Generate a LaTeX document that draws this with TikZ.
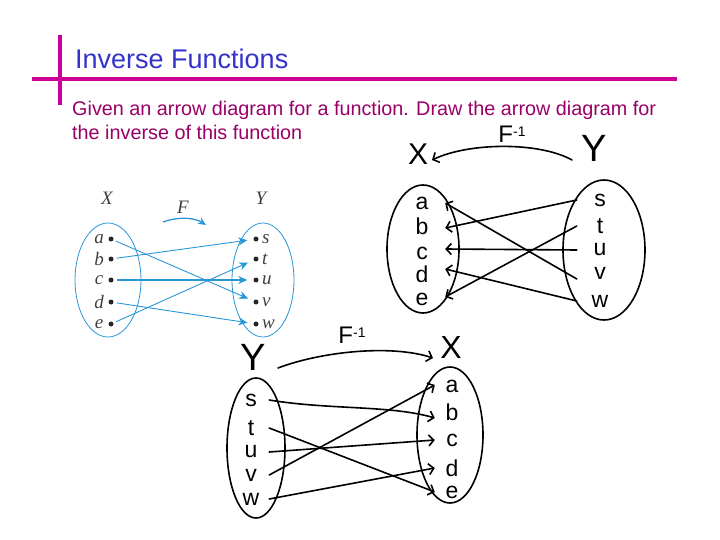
\documentclass[tikz,border=0pt]{standalone}
\usepackage{fontspec}
\setmainfont{Liberation Sans}
\newfontfamily\tbfont{Liberation Serif}
\usetikzlibrary{arrows.meta}
\definecolor{titleblue}{RGB}{51,51,204}
\definecolor{bodymag}{RGB}{153,0,102}
\definecolor{rulemag}{RGB}{204,0,153}
\definecolor{tbblue}{RGB}{40,150,215}
\begin{document}
\begin{tikzpicture}[x=1pt,y=-1pt,
  rulestyle/.style={rulemag,line width=4pt},
  bodytext/.style={anchor=base west,inner sep=0pt,text=bodymag,font=\fontsize{19.8}{24}\selectfont},
  tbdot/.style={circle,fill=black!85,inner sep=0pt,minimum size=5pt},
  tblab/.style={font=\tbfont\itshape\fontsize{19}{19}\selectfont,text=black!75,inner sep=0pt},
  tbarrow/.style={tbblue,line width=0.9pt,-{Stealth[length=9pt,width=8pt]},shorten <=3pt,shorten >=6pt},
  tbset/.style={draw=tbblue,line width=0.8pt},
  hand/.style={black,line width=1.6pt,line cap=round},
  handarrow/.style={hand,-{Straight Barb[length=5pt,width=11pt,line width=1.6pt]}},
  hlab/.style={font=\fontsize{23}{23}\selectfont,inner sep=0pt},
  hF/.style={font=\fontsize{24}{24}\selectfont,inner sep=0pt,anchor=base},
  hX/.style={font=\fontsize{30}{30}\selectfont,inner sep=0pt},
  hY/.style={font=\fontsize{38}{38}\selectfont,inner sep=0pt}
]
\useasboundingbox (0,0) rectangle (720,540);
% title rules
\coordinate (vt) at (60,35); \coordinate (vb) at (60,105);
\coordinate (hl) at (32,79); \coordinate (hr) at (677,79);
\draw[rulestyle] (vt) -- (vb);
\draw[rulestyle] (hl) -- (hr);
\node[anchor=base west,inner sep=0pt,text=titleblue,font=\fontsize{27}{27}\selectfont] (title) at (75,69) {Inverse Functions};
\node[bodytext] (body1) at (72,116) {Given an arrow diagram for a function. Draw the arrow diagram for};
\node[bodytext] (body2) at (72,140) {the inverse of this function};

% ---------- textbook diagram ----------
\draw[tbset] (108,280) ellipse (33 and 57);
\draw[tbset] (263,280) ellipse (31 and 57);
\node[tblab] (tX) at (107,198) {X};
\node[tblab] (tY) at (261,198) {Y};
\node[tblab] (tF) at (183,207) {F};
\coordinate (tFs) at (163,222); \coordinate (tFe) at (206,225);
\draw[tbblue,line width=1.3pt,-{Stealth[length=8pt,width=7pt]}] (tFs) .. controls (180,216) and (195,218) .. (tFe);
\foreach \n/\y in {a/239,b/259,c/280,d/302,e/324}{
  \node[tbdot] (d\n) at (111,\y) {};
  \node[tblab] (l\n) at (99,\y) {\n};
}
\foreach \n/\y in {s/239,t/259,u/280,v/302,w/324}{
  \node[tbdot] (d\n) at (256,\y) {};
  \node[tblab,anchor=west] (l\n) at (262,\y) {\n};
}
\draw[tbarrow] (da) -- (dv);
\draw[tbarrow] (db) -- (ds);
\draw[tbarrow,line width=1.6pt] (dc) -- (du);
\draw[tbarrow] (dd) -- (dw);
\draw[tbarrow] (de) -- (dt);

% ---------- hand diagram 1 (top right) ----------
\node[hX] (rX) at (418,154) {X};
\node[hY] (rY) at (594,148) {Y};
\node[hF] (rF) at (512,143) {F\raisebox{6pt}{\fontsize{14}{14}\selectfont -1}};
\coordinate (rFs) at (572,160); \coordinate (rFe) at (432,160);
\draw[handarrow] (rFs) .. controls (540,142) and (470,142) .. (rFe);
\draw[hand] (423,249) ellipse (36 and 64);
\draw[hand] (604,250) ellipse (41 and 70);
\foreach \n/\y in {a/203,b/226,c/253,d/274,e/299}{
  \node[hlab,minimum width=46pt] (r\n) at (422,\y) {\n};
}
\foreach \n/\y in {s/200,t/226,u/250,v/273,w/301}{
  \node[hlab,minimum width=46pt] (r\n) at (600,\y) {\n};
}
\draw[handarrow] (rs.west) -- ([yshift=-2pt]rb.east);
\draw[handarrow] (rt.west) -- ([yshift=2pt]re.east);
\draw[handarrow] (ru.west) -- ([yshift=4pt]rc.east);
\draw[handarrow] ([yshift=-6pt]rv.west) -- (ra.east);
\draw[handarrow] (rw.west) -- ([yshift=5pt]rd.east);

% ---------- hand diagram 2 (bottom) ----------
\node[hY] (bY) at (253,357) {Y};
\node[hX,font=\fontsize{32}{32}\selectfont] (bX) at (451,347) {X};
\node[hF] (bF) at (352,343) {F\raisebox{6pt}{\fontsize{14}{14}\selectfont -1}};
\coordinate (bFs) at (278,368); \coordinate (bFe) at (433,358);
\draw[handarrow] (bFs) .. controls (320,352) and (390,344) .. (bFe);
\draw[hand] (256,448) ellipse (29 and 70);
\draw[hand] (450,435) ellipse (33 and 68);
\foreach \n/\y in {s/400,t/428,u/452,v/475,w/499}{
  \node[hlab,minimum width=36pt] (b\n) at (251,\y) {\n};
}
\foreach \n/\y in {a/386,b/412,c/440,d/468,e/492}{
  \node[hlab,minimum width=34pt] (b\n) at (452,\y) {\n};
}
\draw[handarrow] (bs.east) .. controls (330,410) and (390,405) .. ([yshift=-6pt]bb.west);
\draw[handarrow] (bt.east) -- (be.west);
\draw[handarrow] (bu.east) -- (bc.west);
\draw[handarrow] (bv.east) -- ([yshift=1pt]ba.west);
\draw[handarrow] (bw.east) -- (bd.west);
\end{tikzpicture}
\end{document}
